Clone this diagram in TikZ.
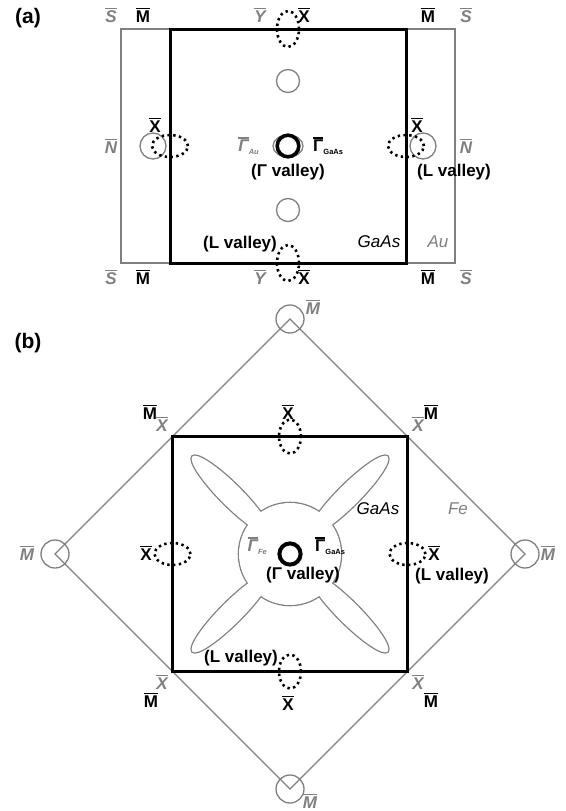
\documentclass[tikz,border=0pt]{standalone}
\usepackage{fontspec}
\setmainfont{Liberation Sans}
\usetikzlibrary{positioning}
\definecolor{BZgray}{RGB}{128,128,128}
\newcommand{\bzol}[1]{\vbox{\hrule height 1.6pt \kern 1.3pt \hbox{#1}}}
\newcommand{\bzsub}[1]{\raisebox{-3pt}{\fontsize{7.5}{7.5}\selectfont #1}}
\tikzstyle{bzline} = [BZgray, line width=1.3pt]
\tikzstyle{bzedge} = [black, line width=3pt]
\tikzstyle{valley} = [black, line width=2.6pt, dash pattern=on 2.4pt off 3.4pt]
\tikzstyle{petal} = [BZgray, line width=2.6pt]
\tikzstyle{lbl} = [inner sep=0pt, font=\fontsize{17}{19}\selectfont\bfseries]
\tikzstyle{glbl} = [inner sep=0pt, text=BZgray, font=\fontsize{17}{19}\selectfont\bfseries\itshape]
\tikzstyle{mlbl} = [inner sep=0pt, font=\fontsize{17}{19}\selectfont\itshape]
\tikzstyle{panel} = [inner sep=0pt, font=\fontsize{21}{23}\selectfont\bfseries]

\begin{document}
\begin{tikzpicture}[x=1pt, y=-1pt]
\useasboundingbox[fill=white] (0,0) rectangle (565,811);

% ---------- (a) GaAs on Au
\coordinate (ga) at (288,146);
\node[panel] (pa) at (28,18) {(a)};
\draw[bzline] (121,29) rectangle (455,263);
\draw[bzline] (ga) ellipse [x radius=15pt, y radius=11pt];
\draw[bzline] (288,81) circle [radius=11.5pt];
\draw[bzline] (288,210) circle [radius=11.5pt];
\draw[bzline] (153,146) circle [radius=13pt];
\draw[bzline] (423,146) circle [radius=13pt];
\draw[bzedge] (170,29) rectangle (406,263);
\draw[valley] (288,29) ellipse [x radius=11pt, y radius=18pt];
\draw[valley] (288,263) ellipse [x radius=11pt, y radius=18pt];
\draw[valley] (170,146) ellipse [x radius=18pt, y radius=11pt];
\draw[valley] (406,146) ellipse [x radius=18pt, y radius=11pt];
\draw[black, line width=3.6pt] (ga) circle [radius=10.8pt];

\node[glbl] (sa1) at (111,15) {\bzol{S}};
\node[lbl]  (ma1) at (143,15) {\bzol{M}};
\node[glbl] (ya1) at (260,15) {\bzol{Y}};
\node[lbl]  (xa1) at (304,15) {\bzol{X}};
\node[lbl]  (ma2) at (428,15) {\bzol{M}};
\node[glbl] (sa2) at (466,15) {\bzol{S}};
\node[glbl] (sa3) at (111,277) {\bzol{S}};
\node[lbl]  (ma3) at (143,277) {\bzol{M}};
\node[glbl] (ya2) at (260,277) {\bzol{Y}};
\node[lbl]  (xa2) at (304,277) {\bzol{X}};
\node[lbl]  (ma4) at (428,277) {\bzol{M}};
\node[glbl] (sa4) at (466,277) {\bzol{S}};
\node[glbl] (na1) at (111,146) {\bzol{N}};
\node[glbl] (na2) at (466,146) {\bzol{N}};
\node[lbl]  (xa3) at (155,125) {\bzol{X}};
\node[lbl]  (xa4) at (417,125) {\bzol{X}};
\node[glbl, anchor=east] (gau) at (259,146) {\bzol{Γ}\bzsub{Au}};
\node[lbl, anchor=west] (gga) at (313,146) {\bzol{Γ}\bzsub{GaAs}};
\node[lbl]  (gva) at (288,172) {(Γ valley)};
\node[lbl]  (lva1) at (454,172) {(L valley)};
\node[lbl]  (lva2) at (240,244) {(L valley)};
\node[mlbl] (gaa) at (379,242) {GaAs};
\node[mlbl, text=BZgray] (au) at (438,242) {Au};

% ---------- (b) GaAs on Fe
\coordinate (gb) at (290,554);
\node[panel] (pb) at (28,343) {(b)};
% Fe Fermi surface
\foreach \a in {45,135,225,315}
  \draw[petal, shift={(gb)}, rotate=\a] (83,0) ellipse [x radius=55pt, y radius=11pt];
\draw[petal] (gb) circle [radius=51pt];
\foreach \a in {45,135,225,315}
  \fill[white, shift={(gb)}, rotate=\a] (83,0) ellipse [x radius=55pt, y radius=11pt];
\fill[white] (gb) circle [radius=51pt];

\draw[bzline] (290,319) -- (525,554) -- (290,789) -- (55,554) -- cycle;
\foreach \p in {(290,319),(525,554),(290,789),(55,554)}
  \draw[bzline] \p circle [radius=14pt];
\draw[bzedge] (172.5,436.5) rectangle (407.5,671.5);
\draw[valley] (290,436.5) ellipse [x radius=11pt, y radius=17pt];
\draw[valley] (290,671.5) ellipse [x radius=11pt, y radius=17pt];
\draw[valley] (172.5,554) ellipse [x radius=18pt, y radius=11pt];
\draw[valley] (407.5,554) ellipse [x radius=18pt, y radius=11pt];
\draw[black, line width=4pt] (gb) circle [radius=10.6pt];

\node[glbl] (mb1) at (313,307) {\bzol{M}};
\node[glbl] (mb2) at (548,553) {\bzol{M}};
\node[glbl] (mb3) at (310,801) {\bzol{M}};
\node[glbl] (mb4) at (27,553) {\bzol{M}};
\node[lbl]  (mb5) at (150,412) {\bzol{M}};
\node[glbl] (xb1) at (162,424) {\bzol{X}};
\node[glbl] (xb2) at (418,424) {\bzol{X}};
\node[lbl]  (mb6) at (431,412) {\bzol{M}};
\node[glbl] (xb3) at (162,682) {\bzol{X}};
\node[lbl]  (mb7) at (151,700) {\bzol{M}};
\node[glbl] (xb4) at (418,682) {\bzol{X}};
\node[lbl]  (mb8) at (431,700) {\bzol{M}};
\node[lbl]  (xb5) at (288,412) {\bzol{X}};
\node[lbl]  (xb6) at (146,553) {\bzol{X}};
\node[lbl]  (xb7) at (434,553) {\bzol{X}};
\node[lbl]  (xb8) at (288,703) {\bzol{X}};
\node[glbl, anchor=east] (gfe) at (267,546) {\bzol{Γ}\bzsub{Fe}};
\node[lbl, anchor=west] (ggb) at (315,546) {\bzol{Γ}\bzsub{GaAs}};
\node[lbl]  (gvb) at (303,575) {(Γ valley)};
\node[lbl]  (lvb1) at (452,576) {(L valley)};
\node[lbl]  (lvb2) at (241,658) {(L valley)};
\node[mlbl] (gab) at (378,509) {GaAs};
\node[mlbl, text=BZgray] (fe) at (458,509) {Fe};
\end{tikzpicture}
\end{document}
